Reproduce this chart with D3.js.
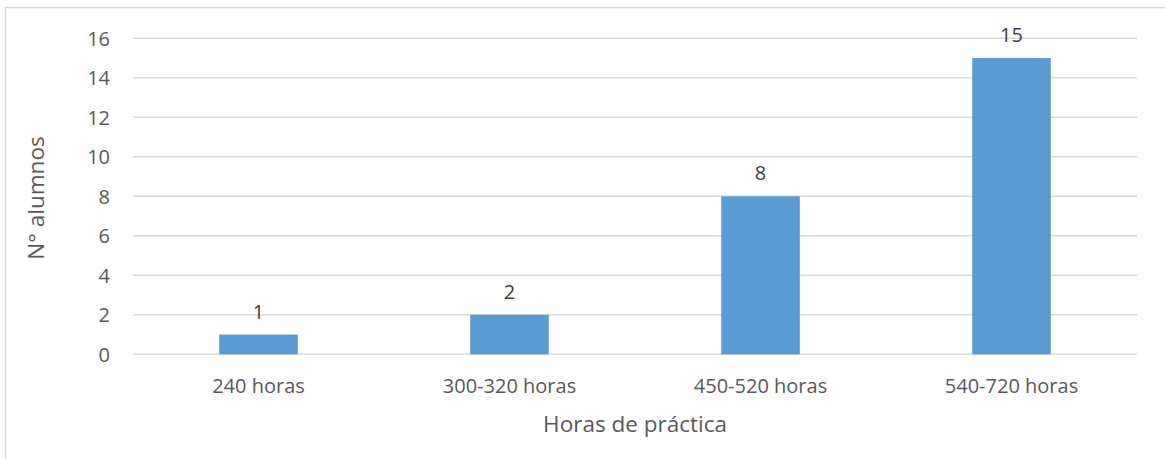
<!DOCTYPE html>
<html>
<head>
    <meta charset="utf-8">
    <title>Horas de práctica</title>
    <script src="https://cdn.jsdelivr.net/npm/d3@7"></script>
    <style>
        body { margin: 0; background: #fff; }
        text { font-family: "Open Sans", sans-serif; fill: #595959; }
    </style>
</head>
<body>
    <svg width="1165" height="459" id="mainsvg"></svg>
    <script>
        // data
        const categories = ['240 horas', '300-320 horas', '450-520 horas', '540-720 horas'];
        const alumnos = [1, 2, 8, 15];
        const yTicks = [0, 2, 4, 6, 8, 10, 12, 14, 16];

        const svg = d3.select('svg');
        const width = +svg.attr('width');
        const height = +svg.attr('height');

        // outer chart border
        svg.append('rect').attr('x', 5.5).attr('y', 7.5).attr('width', width + 10).attr('height', height + 10)
            .attr('fill', 'none').attr('stroke', '#d9d9d9').attr('stroke-width', 1.5);

        const plot = { left: 133, right: 1137, top: 38.3, bottom: 354.3 };

        const x = d3.scaleBand().domain(categories).range([plot.left, plot.right]).padding(0);
        const y = d3.scaleLinear().domain([0, 16]).range([plot.bottom, plot.top]);
        const barW = x.bandwidth() * 0.313;

        // gridlines
        svg.append('g').selectAll('line').data(yTicks).join('line')
            .attr('x1', plot.left).attr('x2', plot.right)
            .attr('y1', d => y(d)).attr('y2', d => y(d))
            .attr('stroke', '#d9d9d9').attr('stroke-width', 1.5);

        // y tick labels
        svg.append('g').selectAll('text').data(yTicks).join('text')
            .attr('x', 110).attr('y', d => y(d)).attr('dy', '0.36em')
            .attr('text-anchor', 'end').attr('font-size', 20)
            .text(d => d);

        // bars
        svg.append('g').selectAll('rect').data(alumnos).join('rect')
            .attr('x', (d, i) => x(categories[i]) + x.bandwidth() / 2 - barW / 2)
            .attr('width', barW)
            .attr('y', d => y(d))
            .attr('height', d => y(0) - y(d))
            .attr('fill', '#5b9bd5');

        // value labels
        svg.append('g').selectAll('text').data(alumnos).join('text')
            .attr('x', (d, i) => x(categories[i]) + x.bandwidth() / 2)
            .attr('y', d => y(d) - 16)
            .attr('text-anchor', 'middle').attr('font-size', 20).style('fill', '#404040')
            .text(d => d);

        // x category labels
        svg.append('g').selectAll('text').data(categories).join('text')
            .attr('x', d => x(d) + x.bandwidth() / 2)
            .attr('y', 393)
            .attr('text-anchor', 'middle').attr('font-size', 20)
            .text(d => d);

        // axis titles
        svg.append('text').attr('x', (plot.left + plot.right) / 2).attr('y', 432)
            .attr('text-anchor', 'middle').attr('font-size', 22.5)
            .text('Horas de práctica');
        svg.append('text').attr('transform', 'translate(44,198) rotate(-90)')
            .attr('text-anchor', 'middle').attr('font-size', 22.5)
            .text('N° alumnos');
    </script>
</body>
</html>
